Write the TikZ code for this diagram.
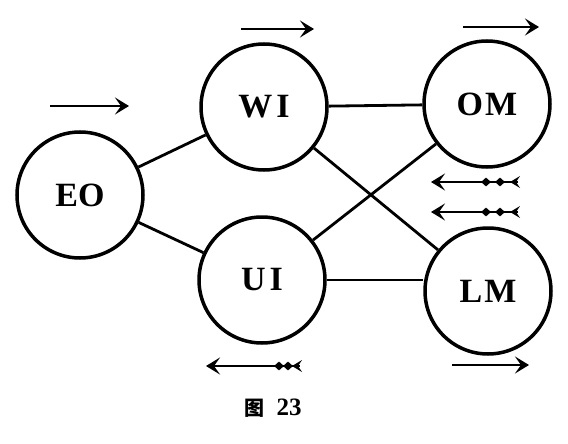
\documentclass[tikz,border=0pt]{standalone}
\usepackage{fontspec}
\setmainfont{Liberation Serif}
\newfontfamily\cjk{Noto Sans CJK SC}
\usetikzlibrary{arrows.meta,shapes.geometric}
\begin{document}
\begin{tikzpicture}[x=1pt,y=-1pt,
  circ/.style={circle,draw,line width=3.5pt,minimum size=126pt,inner sep=0pt,font=\fontsize{34}{36}\selectfont\bfseries},
  conn/.style={line width=2.8pt},
  flow/.style={line width=2.8pt,-{Stealth[length=14pt,width=17pt,inset=6pt]}},
  feather/.style={diamond,fill,draw=none,inner sep=0pt,minimum width=10pt,minimum height=9pt}
]
\useasboundingbox (0,0) rectangle (568,444);

% nodes
\node[circ] (EO) at (80,195) {EO};
\node[circ] (WI) at (264,107) {W\kern4pt I};
\node[circ] (UI) at (262,280) {U\kern4pt I};
\node[circ] (OM) at (487,104) {O\kern2pt M};
\node[circ] (LM) at (488,291) {L\kern2pt M};

% connectors
\draw[conn] (EO) -- (WI);
\draw[conn] (EO) -- (UI);
\draw[conn] (WI) -- (OM);
\draw[conn] (WI) -- (LM);
\draw[conn] (UI) -- (OM);
\draw[conn] (UI.east) -- (UI.east -| LM.west);

% plain arrows
\coordinate (a1s) at (50,106);  \coordinate (a1e) at (129,106);
\coordinate (a2s) at (241,29);  \coordinate (a2e) at (314,29);
\coordinate (a3s) at (463,27);  \coordinate (a3e) at (539,27);
\coordinate (a4s) at (452,365); \coordinate (a4e) at (529,365);
\draw[flow] (a1s) -- (a1e);
\draw[flow] (a2s) -- (a2e);
\draw[flow] (a3s) -- (a3e);
\draw[flow] (a4s) -- (a4e);

% feathered arrows (pointing left)
\coordinate (f1s) at (518,182); \coordinate (f1e) at (431,182);
\coordinate (f2s) at (518,212); \coordinate (f2e) at (431,212);
\coordinate (f3s) at (300,366); \coordinate (f3e) at (206,366);
\draw[flow] (f1s) -- (f1e);
\draw[flow] (f2s) -- (f2e);
\draw[flow] (f3s) -- (f3e);
\foreach \y in {182,212}{
  \node[feather] (fa\y) at (486,\y) {};
  \node[feather] (fb\y) at (500,\y) {};
  \fill (510,\y) -- (520,\y-6) -- (516,\y) -- (520,\y+6) -- cycle;
}
\node[feather] (ua) at (279,366) {};
\node[feather] (ub) at (288,366) {};
\fill (292,366) -- (302,360) -- (298,366) -- (302,372) -- cycle;

% caption
\node (cap) at (273,408) {{\cjk\fontsize{20}{20}\selectfont\bfseries 图}\hspace{12pt}{\fontsize{25}{26}\selectfont\bfseries 23}};
\end{tikzpicture}
\end{document}
